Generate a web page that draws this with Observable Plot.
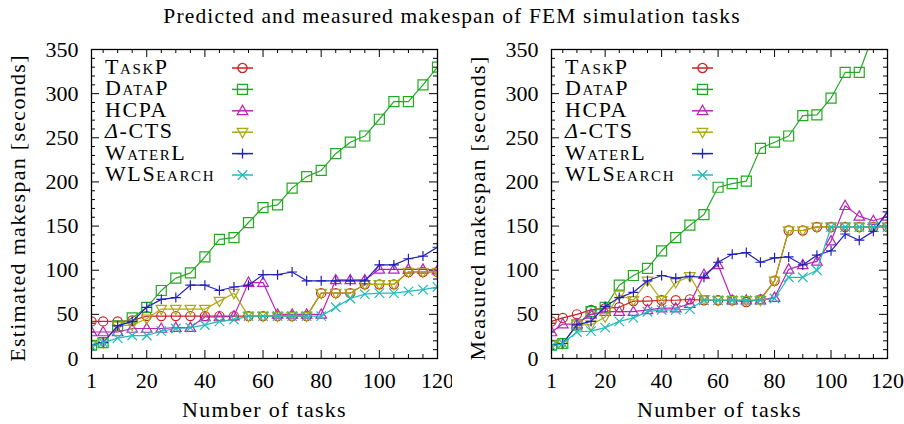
<!DOCTYPE html>
<html><head><meta charset="utf-8">
<script src="https://cdn.jsdelivr.net/npm/d3@7"></script>
<script src="https://cdn.jsdelivr.net/npm/@observablehq/plot@0.6"></script>
<style>
body{margin:0;background:#fff;}
#wrap{width:904px;height:424px;position:relative;font-family:"Liberation Serif",serif;color:#000;}
#title{position:absolute;top:4px;left:0;width:904px;text-align:center;font-size:21.5px;line-height:24px;letter-spacing:1.15px;}
#left{position:absolute;left:0;top:30px;}
#right{position:absolute;left:452px;top:30px;}
svg text{font-family:"Liberation Serif",serif !important;}
svg .lbl text, svg text.lbl{letter-spacing:1.3px;}
svg text.leg{letter-spacing:1.6px;}
</style></head><body>
<div id="wrap"><div id="title">Predicted and measured makespan of FEM simulation tasks</div><div id="left"></div><div id="right"></div></div>
<script>
const tasks = [1,5,10,15,20,25,30,35,40,45,50,55,60,65,70,75,80,85,90,95,100,105,110,115,120];
const names = ["TaskP","DataP","HCPA","Δ-CTS","WaterL","WLSearch"];
const colors = ["#cc2222","#22aa22","#bb22bb","#aaaa11","#2222bb","#22bbbb"];

// Estimated makespan (left)
const taskP_est  = [42,42,42,43,48,48,48,48,48,48,48,48,48,48,48,48,74,74,74,84,84,84,98,98,98];
const dataP_est  = [15,18,37,46,58,77,91,97,115,135,137,154,171,174,193,206,213,232,245,252,271,291,291,310,330];
const hcpa_est   = [30,30,30,34,34,34,35,35,47,47,48,86,86,50,50,50,50,89,89,89,101,101,101,101,100];
const delta_est  = [15,18,37,38,45,56,56,56,56,65,74,48,48,48,48,48,74,74,74,84,84,84,98,98,98];
const waterL_est = [15,18,37,42,58,67,69,83,83,77,81,83,95,95,98,88,88,88,88,88,106,106,113,116,126];
const wls_est    = [14,18,23,26,26,31,34,35,38,42,44,48,48,48,48,48,48,58,68,73,74,74,76,78,81];

// Measured makespan (right)
const taskP_meas  = [42,46,50,55,57,58,65,65,66,66,67,66,66,66,64,67,88,145,145,149,149,149,149,149,149];
const dataP_meas  = [15,17,38,53,58,83,94,102,122,137,151,163,194,198,201,238,245,252,275,276,295,324,324,367,395];
const hcpa_meas   = [30,39,39,50,53,53,53,55,57,57,62,95,106,66,66,66,69,101,106,110,133,173,161,156,161];
const delta_meas  = [15,17,38,38,47,72,66,88,66,86,93,67,66,66,66,66,88,145,145,149,149,149,149,149,149];
const waterL_meas = [15,17,38,42,59,69,75,88,94,91,93,92,109,118,120,109,114,115,106,117,122,141,134,144,166];
const wls_meas    = [14,17,30,31,35,42,46,53,55,55,56,66,66,66,66,66,68,92,92,100,149,149,149,149,149];

const xMajor = [1,20,40,60,80,100,120];
const xMinor = [5,10,15,25,30,35,45,50,55,65,70,75,85,90,95,105,110,115];
const yMajor = [0,50,100,150,200,250,300,350];
const yMinor = [10,20,30,40,60,70,80,90,110,120,130,140,160,170,180,190,210,220,230,240,260,270,280,290,310,320,330,340];

// gnuplot-like open point symbols
const symCircle = {draw(c, size){const r=Math.sqrt(size/Math.PI)*0.92; c.moveTo(r,0); c.arc(0,0,r,0,2*Math.PI); c.closePath();}};
const symSquare = {draw(c, size){const r=Math.sqrt(size/Math.PI); c.rect(-r,-r,2*r,2*r);}};
const symTriUp = {draw(c, size){const r=Math.sqrt(size/Math.PI); c.moveTo(0,-1.1*r); c.lineTo(1.05*r,0.75*r); c.lineTo(-1.05*r,0.75*r); c.closePath();}};
const symTriDown = {draw(c, size){const r=Math.sqrt(size/Math.PI); c.moveTo(0,1.1*r); c.lineTo(1.05*r,-0.75*r); c.lineTo(-1.05*r,-0.75*r); c.closePath();}};
const symPlus = {draw(c, size){const r=Math.sqrt(size/Math.PI); c.moveTo(-r,0); c.lineTo(r,0); c.moveTo(0,-r); c.lineTo(0,r);}};
const symTimes = {draw(c, size){const r=Math.sqrt(size/Math.PI)*0.95; c.moveTo(-r,-r); c.lineTo(r,r); c.moveTo(-r,r); c.lineTo(r,-r);}};
const symbols = [symCircle, symSquare, symTriUp, symTriDown, symPlus, symTimes];
const R = 5;

function legendMark() {
  return (index, scales, values, dims) => {
    const g = d3.create("svg:g");
    const x0 = dims.marginLeft, y0 = dims.marginTop;
    names.forEach((name, i) => {
      const cy = y0 + 19 + i * 21.4;
      const t = g.append("text").attr("class", "leg").attr("x", x0 + 14).attr("y", cy + 6)
        .attr("text-anchor", "start").attr("font-size", 22).attr("fill", "black");
      if (name === "Δ-CTS") {
        t.append("tspan").attr("font-style", "italic").text("Δ");
        t.append("tspan").text("-CTS");
      } else if (name === "HCPA") {
        t.text(name);
      } else {
        t.attr("font-variant", "small-caps").text(name);
      }
      g.append("line").attr("x1", x0 + 141).attr("x2", x0 + 162).attr("y1", cy).attr("y2", cy)
        .attr("stroke", colors[i]).attr("stroke-width", 1.5);
      const p = d3.path();
      symbols[i].draw(p, Math.PI * R * R);
      g.append("path").attr("d", p.toString()).attr("transform", `translate(${x0 + 151.5},${cy})`)
        .attr("fill", "none").attr("stroke", colors[i]).attr("stroke-width", 1.3);
    });
    return g.node();
  };
}

function panel(series, ylabel, ml, mr) {
  const W = 452, H = 394, mt = 19, mb = 66;
  const FH = H - mt - mb;
  const FW = W - ml - mr;
  const marks = [
    Plot.tickX(xMajor, {x: d => d, insetTop: FH - 8, stroke: "black"}),
    Plot.tickX(xMajor, {x: d => d, insetBottom: FH - 8, stroke: "black"}),
    Plot.tickX(xMinor, {x: d => d, insetTop: FH - 4, stroke: "black"}),
    Plot.tickX(xMinor, {x: d => d, insetBottom: FH - 4, stroke: "black"}),
    Plot.tickY(yMajor, {y: d => d, insetRight: FW - 8, stroke: "black"}),
    Plot.tickY(yMajor, {y: d => d, insetLeft: FW - 8, stroke: "black"}),
    Plot.tickY(yMinor, {y: d => d, insetRight: FW - 4, stroke: "black"}),
    Plot.tickY(yMinor, {y: d => d, insetLeft: FW - 4, stroke: "black"}),
    Plot.axisX(xMajor, {tickSize: 0, tickPadding: 14, label: null, fontSize: 22}),
    Plot.axisY(yMajor, {tickSize: 0, tickPadding: 13, label: null, fontSize: 22}),
    Plot.text(["Number of tasks"], {frameAnchor: "bottom", dy: 51, lineAnchor: "middle", textAnchor: "middle", fontSize: 22, className: "lbl"}),
    Plot.text([ylabel], {frameAnchor: "left", dx: -74, dy: 4, rotate: -90, lineAnchor: "middle", textAnchor: "middle", fontSize: 22, className: "lbl"}),
  ];
  series.forEach((vals, k) => {
    const data = tasks.map((t, i) => ({x: t, y: vals[i]}));
    marks.push(Plot.line(data, {x: "x", y: "y", stroke: colors[k], strokeWidth: 1.2, clip: true}));
    marks.push(Plot.dot(data, {x: "x", y: "y", stroke: colors[k], symbol: symbols[k], r: R, strokeWidth: 1.2, fill: "none", clip: true}));
  });
  marks.push(Plot.frame({stroke: "black", strokeWidth: 1.3}));
  marks.push(legendMark());
  return Plot.plot({
    width: W, height: H, marginTop: mt, marginBottom: mb, marginLeft: ml, marginRight: mr,
    style: {fontFamily: "Liberation Serif", fontSize: "22px", background: "white", color: "black", overflow: "visible"},
    x: {domain: [1, 120]},
    y: {domain: [0, 350]},
    marks
  });
}

document.getElementById("left").appendChild(
  panel([taskP_est, dataP_est, hcpa_est, delta_est, waterL_est, wls_est], "Estimated makespan [seconds]", 91, 15));
document.getElementById("right").appendChild(
  panel([taskP_meas, dataP_meas, hcpa_meas, delta_meas, waterL_meas, wls_meas], "Measured makespan [seconds]", 99, 17));
</script>
</body></html>
